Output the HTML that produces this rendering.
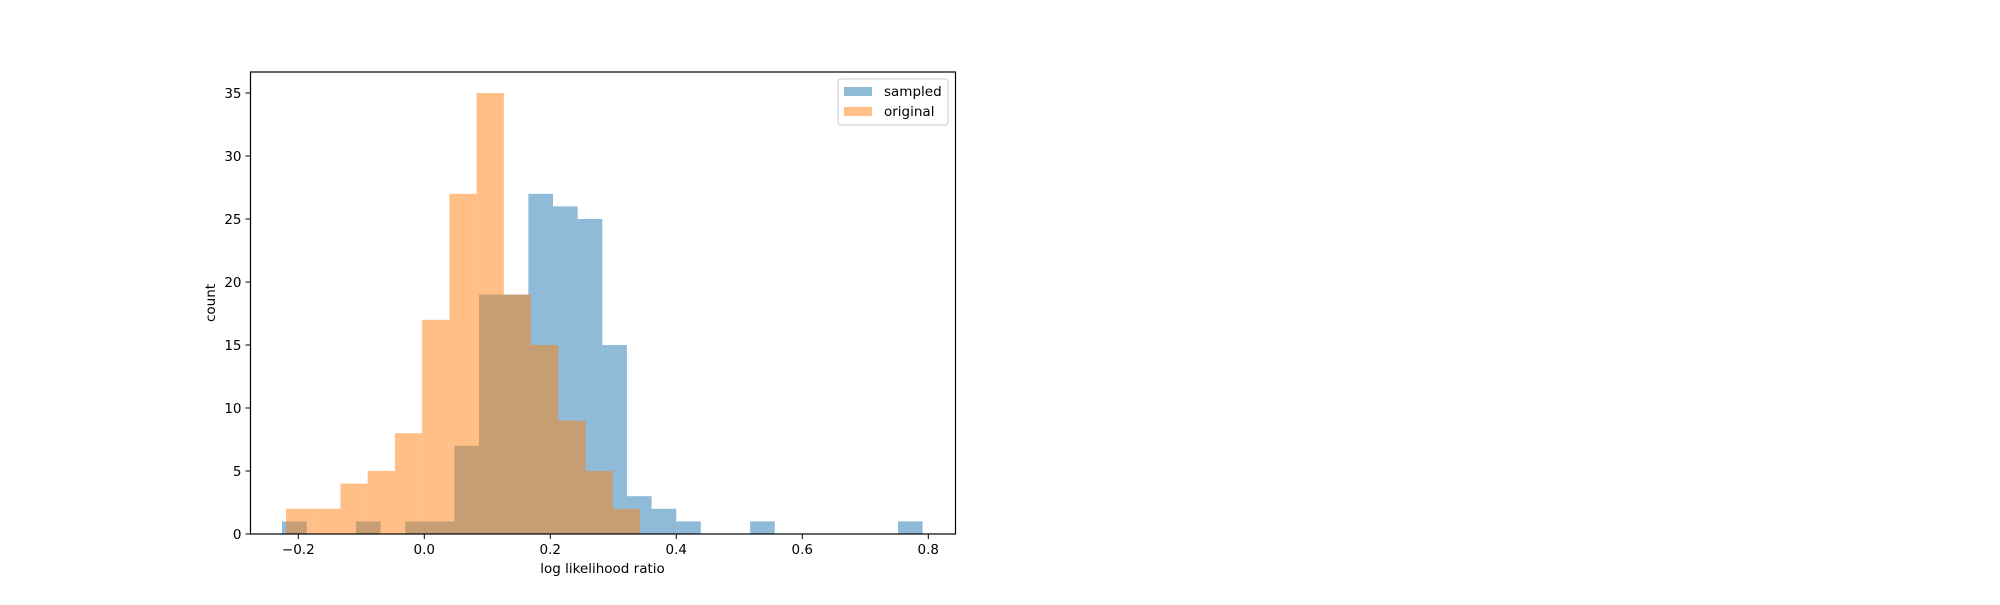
<!DOCTYPE html>
<html><head><meta charset="utf-8"><style>
html,body{margin:0;padding:0;background:#fff;}
svg text{font-family:"DejaVu Sans","Liberation Sans",sans-serif;fill:#000;}
</style></head><body>
<svg id="chart" width="2000" height="600" xmlns="http://www.w3.org/2000/svg">
<rect width="2000" height="600" fill="#fff"/>
<g id="bars"></g>
<g id="axes"></g>
<g>
<rect x="838" y="79" width="110" height="46" rx="3" fill="#fff" fill-opacity="0.8" stroke="#ccc"/>
<rect x="844" y="87" width="28" height="9" fill="#1f77b4" fill-opacity="0.5"/>
<text x="884" y="96" font-size="13.5">sampled</text>
<rect x="844" y="107" width="28" height="9" fill="#ff7f0e" fill-opacity="0.5"/>
<text x="884" y="116" font-size="13.5">original</text>
</g>
<text x="602.5" y="573" font-size="13.5" text-anchor="middle">log likelihood ratio</text>
<text x="0" y="0" font-size="13.5" text-anchor="middle" transform="translate(215,303) rotate(-90)">count</text>
</svg>
<script>
const sampledStart = -0.2259;
const sampledWidth = 0.03911;
const sampledCounts = [1,0,0,1,0,1,1,7,19,19,27,26,25,15,3,2,1,0,0,1,0,0,0,0,0,1];
const originalStart = -0.2195;
const originalWidth = 0.04322;
const originalCounts = [2,2,4,5,8,17,27,35,19,15,9,5,2];
const xTicks = [-0.2,0.0,0.2,0.4,0.6,0.8];
const xTickLabels = ["\u22120.2","0.0","0.2","0.4","0.6","0.8"];
const yTicks = [0,5,10,15,20,25,30,35];

const L=250.5,R=955.5,T=72,B=534;
const xs = v => 424.3 + 630*v;
const ys = v => B - 12.6*v;
const NS='http://www.w3.org/2000/svg';
const bars=document.getElementById('bars');
const axes=document.getElementById('axes');
function mk(tag,attrs,parent){const e=document.createElementNS(NS,tag);for(const k in attrs)e.setAttribute(k,attrs[k]);parent.appendChild(e);return e;}
function drawHist(start,w,counts,color,name){
  counts.forEach((c,i)=>{
    if(c<=0)return;
    const x0=xs(start+i*w),x1=xs(start+(i+1)*w);
    const r=mk('rect',{x:x0,y:ys(c),width:x1-x0,height:ys(0)-ys(c),fill:color,'fill-opacity':0.5},bars);
    
    
  });
}
drawHist(sampledStart,sampledWidth,sampledCounts,'#1f77b4','sampled');
drawHist(originalStart,originalWidth,originalCounts,'#ff7f0e','original');
const frame=mk('rect',{x:L,y:T,width:R-L,height:B-T,fill:'none',stroke:'#000','stroke-width':1.2},axes);


xTicks.forEach((v,i)=>{
  const x=xs(v);
  mk('line',{x1:x,x2:x,y1:B,y2:B+5,stroke:'#000','stroke-width':1},axes);
  const t=mk('text',{x:x,y:B+20,'font-size':13.5,'text-anchor':'middle'},axes);
  t.textContent=xTickLabels[i];
  
  
});
yTicks.forEach(v=>{
  const y=ys(v);
  mk('line',{x1:L-5,x2:L,y1:y,y2:y,stroke:'#000','stroke-width':1},axes);
  const t=mk('text',{x:L-9,y:y+5,'font-size':13.5,'text-anchor':'end'},axes);
  t.textContent=String(v);
  
  
});
</script>
</body></html>
